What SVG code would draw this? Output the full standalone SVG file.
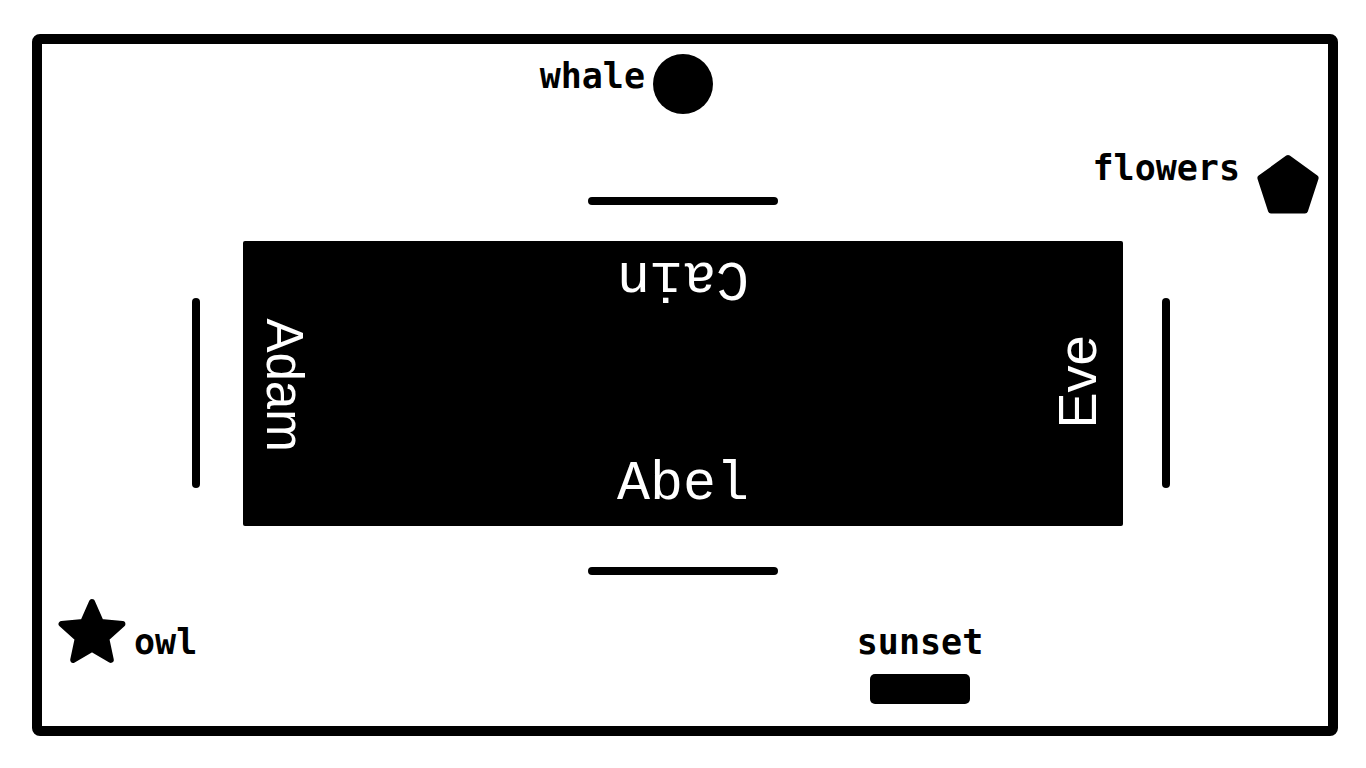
<svg xmlns="http://www.w3.org/2000/svg" width="1366" height="768" viewBox="0 0 1366 768">
<style>
.lbl{font-family:"DejaVu Sans Mono","Liberation Mono",monospace;font-weight:bold;font-size:35px;fill:#000}
.seat{stroke:#000;stroke-width:8;stroke-linecap:round;fill:none}
.mono{font-family:"Liberation Mono","DejaVu Sans Mono",monospace;font-size:55px;fill:#fff}
.sans{font-family:"Liberation Sans",Arial,sans-serif;font-size:51px;fill:#fff}
</style>
<rect id="frame" x="37" y="39" width="1296" height="692" rx="3" fill="#fff" stroke="#000" stroke-width="10"/>
<g id="table">
<rect x="243" y="241" width="880" height="285" rx="2" fill="#000"/>
<text class="mono" x="683" y="499" text-anchor="middle">Abel</text>
<text class="mono" text-anchor="middle" transform="translate(683,263) rotate(180)">Cain</text>
<text class="sans" text-anchor="middle" transform="translate(267,385) rotate(90)">Adam</text>
<text class="sans" text-anchor="middle" transform="translate(1096,382) rotate(-90)" style="font-size:54px">Eve</text>
</g>
<g id="seats">
<line class="seat" x1="592" y1="201" x2="774" y2="201"/>
<line class="seat" x1="592" y1="571" x2="774" y2="571"/>
<line class="seat" x1="196" y1="302" x2="196" y2="484"/>
<line class="seat" x1="1166" y1="302" x2="1166" y2="484"/>
</g>
<g id="whale">
<circle cx="683" cy="84" r="30" fill="#000"/>
<text class="lbl" x="645" y="88" text-anchor="end">whale</text>
</g>
<g id="flowers">
<polygon points="1288,158 1315.6,178 1305,210.5 1271,210.5 1260.4,178" fill="#000" stroke="#000" stroke-width="6" stroke-linejoin="round"/>
<text class="lbl" x="1240" y="180" text-anchor="end">flowers</text>
</g>
<g id="owl">
<polygon points="92,602 100.8,621.9 122.4,624.1 106.3,638.6 110.8,659.9 92,649 73.2,659.9 77.7,638.6 61.6,624.1 83.2,621.9" fill="#000" stroke="#000" stroke-width="6" stroke-linejoin="round"/>
<text class="lbl" x="134" y="654">owl</text>
</g>
<g id="sunset">
<rect x="870" y="674" width="100" height="30" rx="5" fill="#000"/>
<text class="lbl" x="920" y="654" text-anchor="middle">sunset</text>
</g>
</svg>
